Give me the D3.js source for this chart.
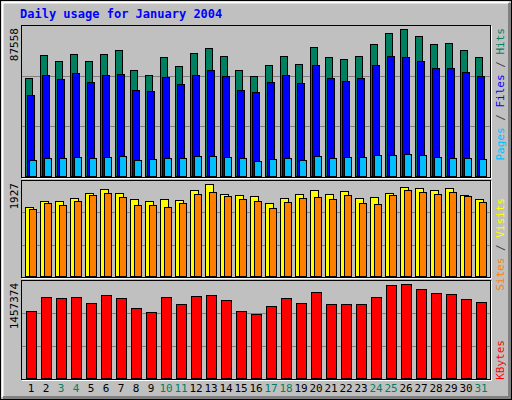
<!DOCTYPE html>
<html><head><meta charset="utf-8">
<script src="https://cdn.jsdelivr.net/npm/d3@7"></script>
<style>body{margin:0;background:#fff}svg{display:block}</style>
</head><body>
<svg width="512" height="400"></svg>
<script>
// data
var days = d3.range(1, 32);
var weekends = [3, 4, 10, 11, 17, 18, 24, 25, 31];
var hits = [58390,72000,68450,72590,68450,72590,74960,63120,60170,70810,65490,73180,76140,71410,63120,59570,66080,71410,66670,76730,70810,69630,71410,78500,85010,87558,83240,78500,79100,74960,70810];
var files = [48330,60170,57800,61350,56020,60170,60760,51290,50700,58980,54840,60170,63120,59570,51290,50110,56020,60170,55430,66080,58390,56620,58390,66080,71410,70810,68450,64310,64310,61940,59570];
var pages = [9290,10470,10470,11060,10470,11060,11650,9290,9880,10470,10470,11650,11650,11060,10470,8700,9880,10470,9290,11650,10470,11060,11060,12250,12250,12840,12250,11060,10470,10470,9880];
var visits = [1443,1569,1569,1632,1738,1822,1738,1611,1569,1611,1590,1801,1927,1717,1696,1675,1527,1632,1717,1801,1717,1780,1632,1653,1738,1864,1843,1801,1843,1696,1611];
var sites = [1401,1527,1485,1569,1696,1738,1653,1485,1485,1443,1527,1717,1759,1675,1611,1569,1422,1548,1632,1653,1611,1696,1527,1506,1696,1801,1759,1717,1759,1675,1548];
var kbytes = [1040980,1265190,1249170,1265190,1169100,1297220,1249170,1089020,1024960,1265190,1153080,1281200,1297220,1217140,1040980,992930,1121050,1249170,1169100,1345260,1153080,1153080,1153080,1265190,1441350,1457374,1377290,1329250,1313230,1233160,1185110];

var svg = d3.select("svg");
var font = "'DejaVu Sans Mono', monospace";

// background and bevel frame
svg.append("rect").attr("x", 0.5).attr("y", 0.5).attr("width", 511).attr("height", 399)
   .attr("fill", "#c0c0c0").attr("stroke", "#000");
svg.append("path").attr("d", "M2.5,397V2.5H509").attr("fill", "none").attr("stroke", "#fff").attr("stroke-width", 2);
svg.append("path").attr("d", "M3,397.5H509.5V3").attr("fill", "none").attr("stroke", "#808080").attr("stroke-width", 3);

svg.append("text").attr("x", 20).attr("y", 18).attr("fill", "#0000ff")
   .attr("font-family", font).attr("font-weight", "bold").attr("font-size", 12)
   .text("Daily usage for January 2004");

var xScale = d3.scaleBand().domain(days).range([25, 490]);

// panels: top, bottom (bar base), max of scale
var panels = [
  {y0: 25, y1: 177, top: 29, max: 87558, label: "87558"},
  {y0: 180, y1: 277, top: 184.3, max: 1927, label: "1927"},
  {y0: 280, y1: 379, top: 284.3, max: 1457374, label: "1457374"}
];

panels.forEach(function(p) {
  svg.append("rect").attr("x", 21.5).attr("y", p.y0 + 0.5).attr("width", 469).attr("height", p.y1 - p.y0)
     .attr("fill", "none").attr("stroke", "#000");
  svg.append("path").attr("d", "M22," + (p.y1 + 1.5) + "H491.5V" + (p.y0 + 1))
     .attr("fill", "none").attr("stroke", "#fff");
  var h = p.y1 - p.y0;
  [1, 2].forEach(function(k) {
    var gy = Math.round(p.y1 - h * k / 3) + 0.5;
    svg.append("line").attr("x1", 22).attr("x2", 490).attr("y1", gy).attr("y2", gy)
       .attr("stroke", "#808080");
  });
  svg.append("text").attr("transform", "translate(18," + (p.y0 + 3) + ") rotate(-90)")
     .attr("text-anchor", "end").attr("font-family", font).attr("font-size", 11)
     .attr("fill", "#000").text(p.label);
});

function yFor(p) { return d3.scaleLinear().domain([0, p.max]).range([p.y1 - 1, p.top]); }

function bars(data, p, dx, w, color) {
  var y = yFor(p);
  svg.append("g").selectAll("rect").data(data).enter().append("rect")
     .attr("x", function(d, i) { return xScale(days[i]) + dx + 0.5; })
     .attr("y", function(d) { return Math.round(y(d)) + 0.5; })
     .attr("width", w)
     .attr("height", function(d) { return p.y1 - 1 - Math.round(y(d)); })
     .attr("fill", color).attr("stroke", "#000");
}

bars(hits, panels[0], 0, 7, "#008060");
bars(files, panels[0], 2, 7, "#0000ff");
bars(pages, panels[0], 4, 7, "#00c0ff");
bars(visits, panels[1], 0, 8, "#ffff00");
bars(sites, panels[1], 4, 7, "#ff8000");
bars(kbytes, panels[2], 1, 10, "#ff0000");

// day labels
svg.append("g").selectAll("text").data(days).enter().append("text")
   .attr("x", function(d) { return xScale(d) + 6; })
   .attr("y", 392).attr("text-anchor", "middle")
   .attr("font-family", font).attr("font-size", 11)
   .attr("fill", function(d) { return weekends.indexOf(d) >= 0 ? "#008060" : "#000"; })
   .text(function(d) { return d; });

// legends on the right
function legend(y, parts) {
  var t = svg.append("text").attr("transform", "translate(504," + y + ") rotate(-90)")
     .attr("text-anchor", "end").attr("font-family", font).attr("font-size", 11);
  parts.forEach(function(pt) { t.append("tspan").attr("fill", pt[1]).text(pt[0]); });
}
legend(28, [["Pages", "#00c0ff"], [" / ", "#404040"], ["Files", "#0000ff"], [" / ", "#404040"], ["Hits", "#008060"]]);
legend(198, [["Sites", "#ff8000"], [" / ", "#404040"], ["Visits", "#ffff00"]]);
legend(340, [["KBytes", "#ff0000"]]);
</script>
</body></html>
